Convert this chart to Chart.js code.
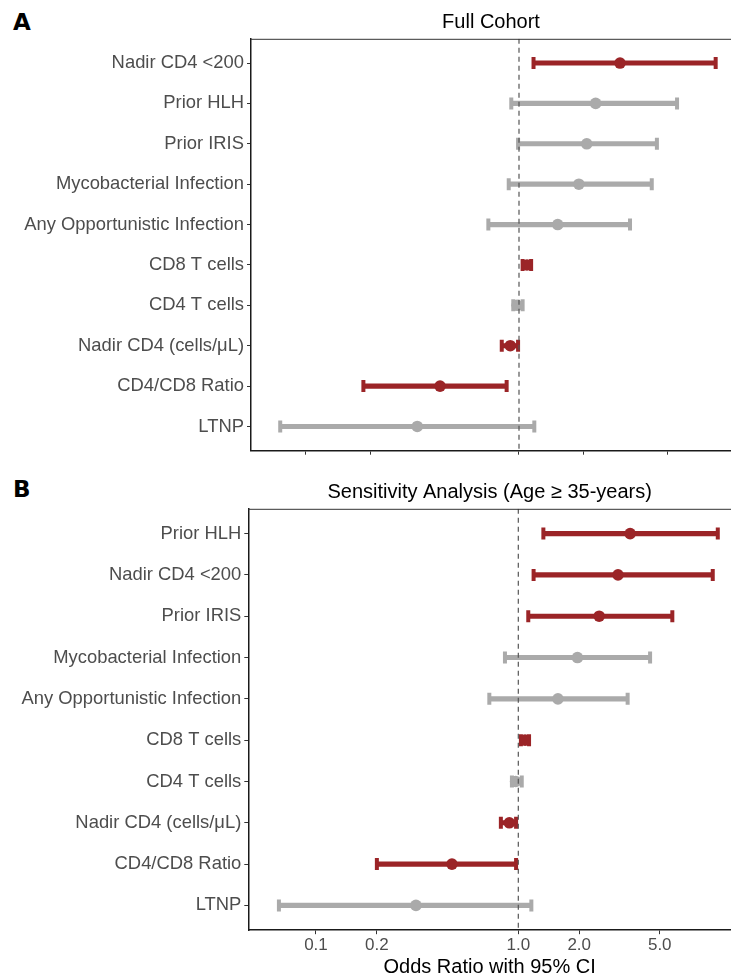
<!DOCTYPE html>
<html>
<head>
<meta charset="utf-8">
<script src="https://cdn.jsdelivr.net/npm/chart.js@4.4.1/dist/chart.umd.min.js"></script>
<style>
  html, body { margin: 0; padding: 0; background: #fff; }
  body { width: 731px; height: 976px; position: relative; overflow: hidden; }
  .panel { position: absolute; left: 0; width: 731px; }
  .tag { position: absolute; left: 13px; font: bold 23px 'DejaVu Sans', Arial, sans-serif; line-height: 23px; color: #000; }
</style>
</head>
<body>
<div class="tag" style="top:11px">A</div>
<div class="tag" style="top:478px">B</div>
<div class="panel" style="top:0;height:480px"><canvas id="chartA"></canvas></div>
<div class="panel" style="top:480px;height:498px"><canvas id="chartB"></canvas></div>
<script>
// --- Panel A: Full Cohort ---
const labelsA = ['Nadir CD4 <200', 'Prior HLH', 'Prior IRIS', 'Mycobacterial Infection', 'Any Opportunistic Infection',
                 'CD8 T cells', 'CD4 T cells', 'Nadir CD4 (cells/μL)', 'CD4/CD8 Ratio', 'LTNP'];
const orA  = [2.98, 2.29, 2.08, 1.91, 1.52, 1.09, 0.98, 0.91, 0.426, 0.333];
const loA  = [1.17, 0.92, 0.99, 0.895, 0.718, 1.04, 0.94, 0.83, 0.186, 0.0757];
const hiA  = [8.38, 5.52, 4.44, 4.20, 3.32, 1.14, 1.04, 0.99, 0.875, 1.18];
const sigA = [true, false, false, false, false, true, false, true, true, false];

// --- Panel B: Sensitivity Analysis (Age >= 35) ---
const labelsB = ['Prior HLH', 'Nadir CD4 <200', 'Prior IRIS', 'Mycobacterial Infection', 'Any Opportunistic Infection',
                 'CD8 T cells', 'CD4 T cells', 'Nadir CD4 (cells/μL)', 'CD4/CD8 Ratio', 'LTNP'];
const orB  = [3.57, 3.11, 2.51, 1.96, 1.57, 1.08, 0.97, 0.903, 0.47, 0.312];
const loB  = [1.33, 1.19, 1.12, 0.859, 0.719, 1.03, 0.93, 0.82, 0.20, 0.0656];
const hiB  = [9.68, 9.14, 5.77, 4.48, 3.47, 1.13, 1.04, 0.975, 0.975, 1.16];
const sigB = [true, true, true, false, false, true, false, true, true, false];

const xTicks = [0.1, 0.2, 1.0, 2.0, 5.0];

const RED = '#9b2427';
const GREY = '#aaaaaa';
const FONT = "'Liberation Sans', Arial, sans-serif";

// top frame line (panel border, right side is cropped in the original)
const frameTop = {
    id: 'frameTop',
    afterDraw(chart) {
        const { ctx, chartArea } = chart;
        ctx.save();
        ctx.strokeStyle = '#333';
        ctx.lineWidth = 1;
        ctx.beginPath();
        ctx.moveTo(chartArea.left, chartArea.top + 0.5);
        ctx.lineTo(chartArea.right, chartArea.top + 0.5);
        ctx.stroke();
        ctx.restore();
    }
};

function forest(canvasId, cfg) {
    const { labels, or, lo, hi, sig } = cfg;
    const colors = sig.map(s => s ? RED : GREY);
    const n = labels.length;

    return new Chart(document.getElementById(canvasId), {
        type: 'bar',
        data: {
            datasets: [
                {   // reference line at OR = 1
                    type: 'line',
                    data: [{ x: 1, y: -0.6 }, { x: 1, y: n - 0.4 }],
                    borderColor: '#555',
                    borderWidth: 1.2,
                    borderDash: [5, 4],
                    pointRadius: 0,
                    order: 0
                },
                {   // point estimates
                    type: 'line',
                    showLine: false,
                    data: or.map((v, i) => ({ x: v, y: i })),
                    pointStyle: 'circle',
                    pointRadius: 5.8,
                    pointBorderWidth: 0,
                    pointBackgroundColor: colors,
                    order: 1
                },
                {   // whisker caps
                    type: 'line',
                    showLine: false,
                    data: lo.flatMap((v, i) => [{ x: v, y: i }, { x: hi[i], y: i }]),
                    pointStyle: 'line',
                    pointRotation: 90,
                    pointRadius: 6,
                    pointBorderWidth: 4,
                    pointBorderColor: colors.flatMap(c => [c, c]),
                    order: 2
                },
                {   // CI segments
                    type: 'bar',
                    indexAxis: 'y',
                    data: lo.map((v, i) => ({ y: i, x: [v, hi[i]] })),
                    backgroundColor: colors,
                    barThickness: 4.5,
                    order: 3
                }
            ]
        },
        options: {
            responsive: true,
            maintainAspectRatio: false,
            animation: false,
            events: [],
            layout: { padding: cfg.padding, autoPadding: false },
            plugins: {
                legend: { display: false },
                tooltip: { enabled: false },
                title: {
                    display: true,
                    text: cfg.title,
                    fullSize: false,
                    color: '#000',
                    font: { family: FONT, size: 20, weight: 'normal', lineHeight: 1.2 },
                    padding: cfg.titlePad
                }
            },
            scales: {
                x: {
                    type: 'logarithmic',
                    position: 'bottom',
                    offset: false,
                    min: cfg.xMin,
                    max: cfg.xMax,
                    afterBuildTicks: s => { s.ticks = xTicks.map(v => ({ value: v })); },
                    grid: { display: true, offset: false, drawOnChartArea: false, drawTicks: true, tickLength: 4, color: '#333' },
                    border: { display: true, color: '#1a1a1a', width: 1.5 },
                    ticks: {
                        display: cfg.showX,
                        autoSkip: false,
                        maxRotation: 0,
                        padding: 3,
                        color: '#4d4d4d',
                        font: { family: FONT, size: 17, lineHeight: 1 },
                        callback: v => Number(v).toFixed(1)
                    },
                    title: {
                        display: cfg.showX,
                        text: 'Odds Ratio with 95% CI',
                        color: '#000',
                        font: { family: FONT, size: 20, lineHeight: 1 },
                        padding: { top: 0.5, bottom: 0.3 }
                    }
                },
                y: {
                    type: 'linear',
                    reverse: true,
                    offset: false,
                    min: -0.6,
                    max: n - 0.4,
                    afterBuildTicks: s => { s.ticks = labels.map((_, i) => ({ value: i })); },
                    afterFit: s => { s.width = cfg.yWidth; },
                    grid: { display: true, offset: false, drawOnChartArea: false, drawTicks: true, tickLength: 4, color: '#333' },
                    border: { display: true, color: '#1a1a1a', width: 1.5 },
                    ticks: {
                        autoSkip: false,
                        padding: 3,
                        color: '#4d4d4d',
                        font: { family: FONT, size: 18.4 },
                        callback: v => labels[v]
                    }
                }
            }
        },
        plugins: [frameTop]
    });
}

forest('chartA', {
    labels: labelsA, or: orA, lo: loA, hi: hiA, sig: sigA,
    title: 'Full Cohort',
    titlePad: { top: 10, bottom: 4.8 },
    padding: { left: 0, right: 0, top: 0, bottom: 25.3 },
    yWidth: 251,
    xMin: 0.0552, xMax: 9.89,
    showX: false
});

forest('chartB', {
    labels: labelsB, or: orB, lo: loB, hi: hiB, sig: sigB,
    title: 'Sensitivity Analysis (Age ≥ 35-years)',
    titlePad: { top: 0, bottom: 4.8 },
    padding: { left: 0, right: 0, top: 0, bottom: 0 },
    yWidth: 248.3,
    xMin: 0.0463, xMax: 11.25,
    showX: true
});
</script>
</body>
</html>
